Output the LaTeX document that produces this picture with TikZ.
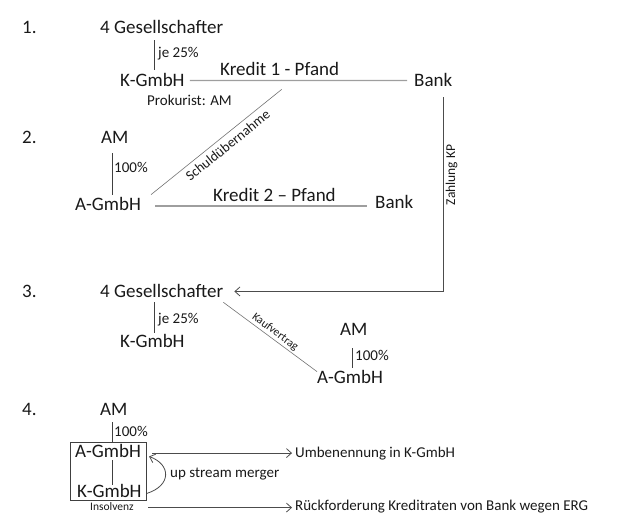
\documentclass[tikz,border=0pt]{standalone}
\usepackage{fontspec}
\setmainfont{Carlito}
\usetikzlibrary{calc,arrows.meta}
\begin{document}
\begin{tikzpicture}[x=1pt,y=-1pt,
  txt/.style={inner sep=0pt, anchor=base west, text=black!90},
  big/.style={txt, font=\fontsize{19}{23}\selectfont},
  mid/.style={txt, font=\fontsize{15}{18}\selectfont},
  sml/.style={txt, font=\fontsize{11.5}{14}\selectfont},
  own/.style={draw=black!75, line width=0.8pt},
  kline/.style={draw=black!38, line width=1.4pt},
  diag/.style={draw=black!55, line width=0.6pt},
  arr/.style={draw=black!70, line width=0.8pt, -{Straight Barb[length=5pt,width=9pt]}},
]
\useasboundingbox (0,0) rectangle (639,526);

% ---- 1.
\node[big] (n1) at (22,34) {1.};
\node[big] (g1) at (100,34) {4 Gesellschafter};
\node[mid] (p1) at (158,58) {je 25\%};
\node[big] (k1) at (120,87) {K-GmbH};
\node[mid] (pr) at (147,106) {Prokurist: AM};
\node[big] (kr1) at (220,76) {Kredit 1 - Pfand};
\node[big] (b1) at (414,87) {Bank};
\draw[own] ($(g1.south)+(-7,6)$) -- ($(g1.south)+(-7,36)$);
\draw[kline, shorten <=5pt, shorten >=7pt] (k1.east) -- (b1.west);

% ---- 2.
\node[big] (n2) at (22,144) {2.};
\node[big] (am2) at (101,144) {AM};
\node[mid] (p2) at (114,173) {100\%};
\node[big] (a2) at (75,211) {A-GmbH};
\node[big] (kr2) at (213,202) {Kredit 2 – Pfand};
\node[big] (b2) at (375,209) {Bank};
\draw[own] ($(am2.south)+(-2.6,9)$) -- ($(am2.south)+(-2.6,51)$);
\draw[kline] ($(a2.east)+(14,1.5)$) -- ($(a2.east -| b2.west)+(-8,1.5)$);
\draw[diag] ($(a2.north east)+(10,-3)$) -- node[sloped, below, pos=0.54, inner sep=4.5pt, text=black!90, font=\fontsize{14}{16}\selectfont] {Schuldübernahme} ($(k1.south east)+(97,2)$);

% ---- 3.
\node[big] (n3) at (22,298) {3.};
\node[big] (g3) at (100,298) {4 Gesellschafter};
\node[mid] (p3) at (158,323) {je 25\%};
\node[big] (k3) at (120,347) {K-GmbH};
\node[big] (am3) at (340,335) {AM};
\node[mid] (p3b) at (355,360) {100\%};
\node[big] (a3) at (317,383) {A-GmbH};
\draw[own] ($(g3.south)+(-7,4)$) -- ($(g3.south)+(-7,35)$);
\draw[own] ($(am3.south)+(-1.6,13)$) -- ($(am3.south)+(-1.6,33)$);
\draw[diag] ($(g3.south east)+(0,4)$) -- node[sloped, above, pos=0.51, inner sep=1.5pt, text=black!90, font=\fontsize{11.5}{13}\selectfont] {Kaufvertrag} ($(a3.north west)+(0,2)$);

% Zahlung KP
\draw[arr] ($(b1.south)+(10,10)$) |- node[pos=0.2, rotate=90, anchor=north, inner sep=2pt, text=black!90, font=\fontsize{13.5}{16}\selectfont] {Zahlung KP} ($(g3.east)+(11,0)$);

% ---- 4.
\node[big] (n4) at (22,415) {4.};
\node[big] (am4) at (100,415) {AM};
\node[mid] (p4) at (114,436) {100\%};
\node[big] (a4) at (75,457) {A-GmbH};
\node[big] (k4) at (77,497) {K-GmbH};
\node[sml] (ins) at (90,510) {Insolvenz};
\node[mid] (um) at (295,457) {Umbenennung in K-GmbH};
\node[mid] (rk) at (295,510) {Rückforderung Kreditraten von Bank wegen ERG};
\node[mid] (us) at (170,477) {up stream merger};
\draw[own] ($(am4.south)+(-1.6,7)$) -- ($(am4.south)+(-1.6,27)$);
\draw[own] ($(a4.south)+(4,3)$) -- ($(a4.south)+(4,28)$);
\draw[draw=black!75, line width=0.8pt] ($(a4.north west)+(-5,-1)$) rectangle ($(k4.south east)+(4.4,3)$);
\draw[arr] ($(um.west -| a4.east)+(11,0)$) -- ($(um.west)+(-3,0)$);
\draw[arr] ($(rk.west -| ins.east)+(14.5,1.5)$) -- ($(rk.west)+(-3,1.5)$);
\draw[arr] ($(k4.east)+(5,3)$) .. controls +(25,-8) and +(22,8) .. ($(a4.east)+(8,6)$);
\end{tikzpicture}
\end{document}
